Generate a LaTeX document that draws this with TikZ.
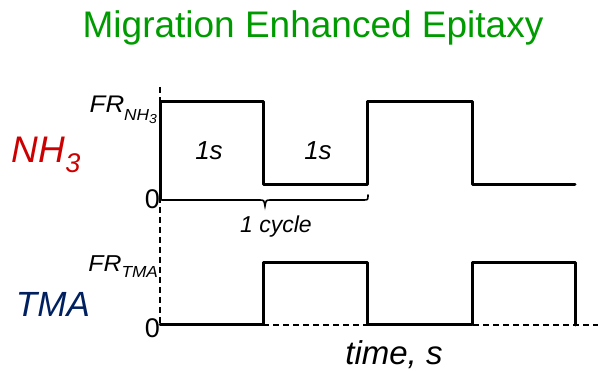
\documentclass[tikz,border=0pt]{standalone}
\usepackage{fontspec}
\usepackage{graphicx}
\setmainfont{Liberation Sans}
\definecolor{titlegreen}{RGB}{0,155,0}
\definecolor{nhred}{RGB}{204,0,0}
\definecolor{tmablue}{RGB}{0,32,96}
\tikzset{
  sig/.style={line width=3pt, line join=round, line cap=round},
  axisdash/.style={line width=1.6pt, dash pattern=on 6pt off 4pt},
  txt/.style={inner sep=0pt, outer sep=0pt},
}
\newcommand{\fsz}[1]{\fontsize{#1}{#1}\selectfont}
\begin{document}
\begin{tikzpicture}[x=1pt,y=-1pt]
\useasboundingbox (0,0) rectangle (598,371);
% title
\node[txt, anchor=base, text=titlegreen] (title) at (313,38) {\fsz{37}Migration Enhanced Epitaxy};
% side labels
\node[txt, anchor=base west, text=nhred] (nh3) at (12,163) {\fsz{37}\itshape NH\raisebox{-10pt}{\fsz{27}3}};
\node[txt, anchor=base west, text=tmablue] (tma) at (16,317) {\fsz{35}\itshape TMA};
% axis
\coordinate (axtop) at (160,87);
\coordinate (axbot) at (160,325);
\draw[axisdash] (axtop) -- (axbot);
% level labels
\node[txt, anchor=base east] (frnh) at (157,113) {\scalebox{1.08}[1]{\fsz{24}\itshape FR\raisebox{-8pt}{\fsz{16}NH\raisebox{-3pt}{\fsz{13}3}}}};
\node[txt, anchor=base east] (frtma) at (158,272) {\scalebox{1.08}[1]{\fsz{23}\itshape FR\raisebox{-6pt}{\fsz{16}TMA}}};
\node[txt, anchor=base east] (zeronh) at (160,209) {\fsz{27}0};
\node[txt, anchor=base east] (zerotma) at (160,338) {\fsz{27}0};
% NH3 signal
\coordinate (n0) at (160,200);
\draw[sig] (n0) -- (160,102) -- (263,102) -- (263,185) -- (367,185) -- (367,102) -- (472,102) -- (472,185) -- (575,185);
% brace
\draw[line width=1.6pt, line cap=round] (160,196) .. controls (160,200) .. (164,200) -- (259,200) .. controls (264,200) .. (265,206) .. controls (266,200) .. (271,200) -- (363,200) .. controls (368,200) .. (368,195);
% TMA baseline dashed
\coordinate (tb0) at (263,325);
\coordinate (tb1) at (598,325);
\draw[axisdash] (tb0) -- (tb1);
% TMA signal
\draw[sig] (160,325) -- (263,325) -- (263,263) -- (367,263) -- (367,325) -- (472,325) -- (472,263) -- (575,263) -- (575,325);
% labels
\node[txt, anchor=base] (s1) at (209,160) {\fsz{26}\itshape 1s};
\node[txt, anchor=base] (s2) at (318,160) {\fsz{26}\itshape 1s};
\node[txt, anchor=base] (cyc) at (276,233) {\fsz{23}\itshape 1 cycle};
\node[txt, anchor=base] (time) at (394,365) {\fsz{33}\itshape time, s};
\end{tikzpicture}
\end{document}
